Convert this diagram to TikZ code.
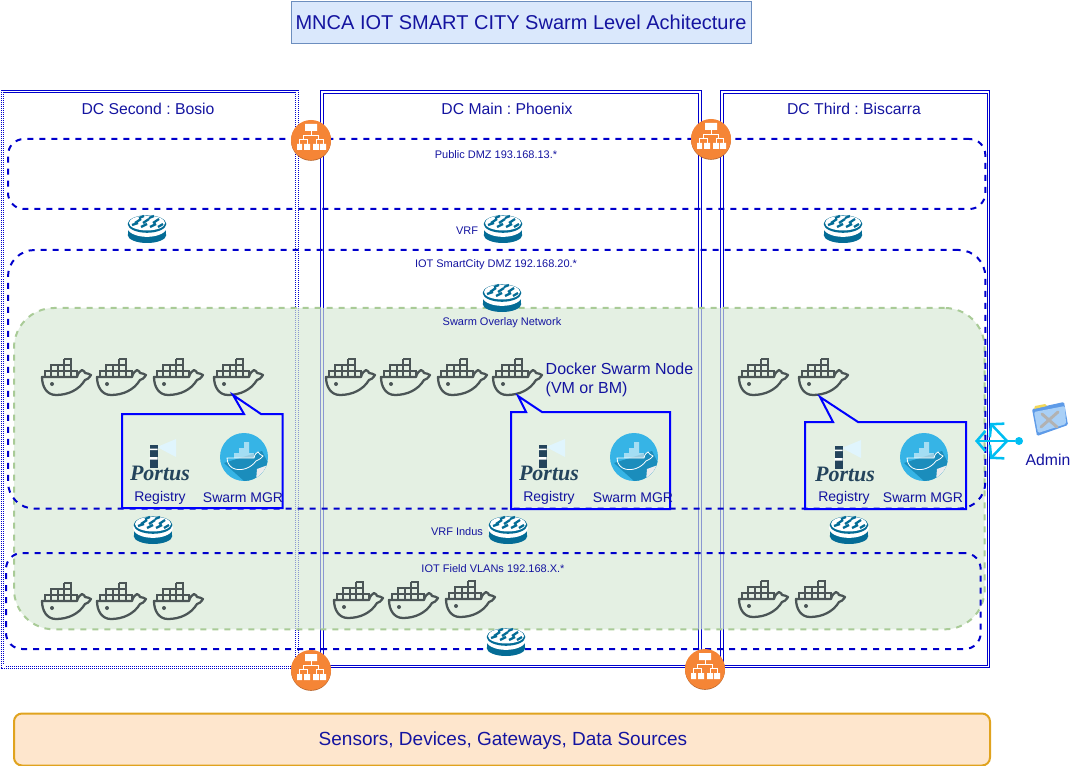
\documentclass[tikz,border=0pt]{standalone}
\usepackage{fontspec}
\setmainfont{Liberation Sans}
\newfontfamily\portusfont{Liberation Serif}
\usetikzlibrary{positioning,arrows.meta,calc}
\definecolor{ink}{HTML}{1414A0}
\definecolor{titlefill}{HTML}{DAE8FC}
\definecolor{titleline}{HTML}{6C8EBF}
\definecolor{frameblue}{HTML}{0000CC}
\definecolor{swarmfill}{HTML}{D5E8D4}
\definecolor{swarmline}{HTML}{A9CB97}
\definecolor{sensorfill}{HTML}{FEE6CD}
\definecolor{sensorline}{HTML}{E0A31F}
\definecolor{hull}{HTML}{4B5556}
\definecolor{routerteal}{HTML}{046C96}
\definecolor{switchorange}{HTML}{F58536}
\definecolor{switchshade}{HTML}{B9652B}
\definecolor{logoblue}{HTML}{36B4E6}
\definecolor{logoshade}{HTML}{1B8DBC}
\definecolor{portusink}{HTML}{24445C}
\definecolor{adminblue}{HTML}{00BEF2}
\definecolor{folderback}{HTML}{5E9BE8}
\definecolor{folderfront}{HTML}{A9D0F7}
\definecolor{foldertab}{HTML}{F2D85A}
\tikzset{
  zonebox/.style={anchor=north west,inner sep=0pt,outer sep=0pt},
  dcframe/.style={zonebox,draw=frameblue,line width=.75pt,double=white,double distance=1.2pt},
  hatchedge/.style={draw=white,line width=3.4pt,dash pattern=on .75pt off .75pt},
  netzone/.style={zonebox,draw=frameblue,line width=1.5pt,dash pattern=on 4.5pt off 4.5pt},
  swarmzone/.style={zonebox,fill=swarmfill,fill opacity=.65,draw=swarmline,line width=1.5pt,dash pattern=on 4.5pt off 4.5pt,rounded corners=30pt},
  titlebox/.style={draw=titleline,fill=titlefill,minimum width=345pt,minimum height=31.5pt,text=ink,font=\fontsize{15}{18}\selectfont},
  sensorbox/.style={zonebox,draw=sensorline,fill=sensorfill,line width=1.5pt,rounded corners=6pt},
  sensorlabel/.style={text=ink,font=\fontsize{14.25}{17}\selectfont},
  dclabel/.style={text=ink,font=\fontsize{11.8}{14}\selectfont\frenchspacing},
  iconlabel/.style={text=ink,font=\fontsize{10.5}{12}\selectfont},
  tinylabel/.style={text=ink,font=\fontsize{8.25}{10}\selectfont},
  infolabel/.style={text=ink,align=left,anchor=west,font=\fontsize{12}{14.25}\selectfont},
  calloutline/.style={draw=blue,line width=1.5pt,line join=miter},
  adminarrow/.style={draw=adminblue,line width=1.9pt,-{Straight Barb[length=6.5pt,width=15pt,line width=1.9pt]}},
  whale/.pic={
    \draw[hull,line width=1.7pt,line join=round]
      (0,19) -- (35,19) .. controls (36,15) and (38,13) .. (40,12) .. controls (42,13) and (43,14) .. (43,15)
      .. controls (45,15) and (47,16) .. (49,17) .. controls (47,20) and (45,22) .. (43,22)
      .. controls (37,32) and (26,37) .. (14,37) .. controls (5,37) and (0,29) .. (0,19) -- cycle;
    \draw[hull,line width=1.25pt]
      (3,19) -- (3,13) -- (35,13) -- (35,19) (9,19) -- (9,7) -- (29,7) -- (29,19)
      (16,7) -- (16,19) (22,1) -- (22,19) (22,1) -- (29,1) -- (29,7);
    \fill[hull] (10,26) circle[radius=1.5pt];
  },
  routerpic/.pic={
    \fill[routerteal] (0,6) ellipse[x radius=14.5pt,y radius=6pt];
    \fill[routerteal] (-19.3,-1) rectangle (19.3,6);
    \fill[white] (0,-2) ellipse[x radius=15pt,y radius=7.4pt];
    \fill[routerteal] (0,-5) ellipse[x radius=14.5pt,y radius=6.6pt];
    \fill[white] (0,-6) ellipse[x radius=13.5pt,y radius=5.6pt];
    \draw[routerteal,line width=1.7pt]
      (-12,-6) -- (-6,-10) (-4,-6) -- (2,-10) (6,-6) -- (12,-10)
      (-15,-4) -- (-9,-6) (-6,-2) -- (0,-5) (3,-2) -- (9,-5) (11,-2) -- (16,-5)
      (-8,-11) -- (-3,-13) (2,-11) -- (7,-13);
  },
  switchpic/.pic={
    \fill[switchshade] (0,.8) circle[radius=15pt];
    \fill[switchorange] (0,0) circle[radius=15pt];
    \fill[white] (-6,-16) rectangle (6,-9) (-14,4) rectangle (-9,10) (-7,4) rectangle (-1,10) (2,4) rectangle (8,10) (9,4) rectangle (15,10);
    \draw[white,line width=.6pt]
      (0,-9) -- (0,-5) (-7.5,-1) -- (-7.5,-5) -- (7.5,-5) -- (7.5,-1)
      (-11.5,4) -- (-11.5,-1) -- (-4,-1) -- (-4,4) (5,4) -- (5,-1) -- (12,-1) -- (12,4);
  },
  portuspic/.pic={
    \fill[white!88!cyan] (-3,-25) -- (16,-33) -- (16,-15) -- cycle;
    \fill[portusink] (-10.5,-27) rectangle (-2.5,-4);
    \fill[white] (-10.5,-23.5) rectangle (-2.5,-22) (-10.5,-15) rectangle (-2.5,-12.5);
    \node[text=portusink,font=\portusfont\fontsize{16.5}{18}\selectfont\bfseries\itshape] (portuslogo) at (0,1) {Portus};
  },
  swarmpic/.pic={
    \begin{scope}
      \clip (0,0) circle[radius=18pt];
      \fill[logoblue] (-24,-24) rectangle (24,24);
      \fill[logoshade] (-20,6) -- (18,-6) -- (24,6) -- (24,24) -- (0,24) -- cycle;
      \fill[white!85!gray] (12,24) -- (13,12) -- (24,8) -- (24,24) -- cycle;
    \end{scope}
    \fill[white,opacity=.55] (-10,-4) rectangle (10,1) (-5,-9) rectangle (5,-4) (0,-15) rectangle (5,-9);
    \draw[white,line width=.6pt] (-17,1) -- (10,1) .. controls (11,-3) and (12,-4) .. (14,-5)
      .. controls (15,-3) and (17,-2) .. (19,-1) .. controls (16,3) and (13,3) .. (12,4)
      .. controls (7,11) and (-2,14) .. (-9,12) .. controls (-13,11) and (-17,7) .. (-17,1) -- cycle;
  },
  folderpic/.pic={
    \fill[folderback,rounded corners=1pt] (-18,-11) -- (14,-18) -- (18,5) -- (-13,16) -- cycle;
    \fill[foldertab] (-16,-11) -- (-15,-14) -- (-5,-16) -- (-3,-14) -- cycle;
    \fill[folderfront,rounded corners=1pt] (-16,-8) -- (15,-14) -- (16,4) -- (-12,13) -- cycle;
    \draw[gray!60,line width=2.2pt,line cap=round] (-9,7) -- (8,-8) (-8,-6) -- (7,7);
  }
}
\begin{document}
\begin{tikzpicture}[x=.75pt,y=-.75pt]
  \useasboundingbox (0,0) rectangle (1073,766);
  \node[titlebox] (title) at (521,22) {MNCA IOT SMART CITY Swarm Level Achitecture};
  \node[dcframe,minimum width=221pt,minimum height=432pt] (dcsecond) at (2.5,91.5) {};
  \node[dcframe,minimum width=283.5pt,minimum height=431pt] (dcmain) at (322,92) {};
  \node[dcframe,minimum width=200pt,minimum height=431pt] (dcthird) at (722,92) {};
  \draw[hatchedge] (dcsecond.north west) -- (dcsecond.south west) -- (dcsecond.south east) -- (dcsecond.north east);
  \node[dclabel] (dcsecondtxt) at (148,108.5) {DC Second : Bosio};
  \node[dclabel] (dcmaintxt) at (507,108.5) {DC Main : Phoenix};
  \node[dclabel] (dcthirdtxt) at (854,108.5) {DC Third : Biscarra};
  \node[swarmzone,minimum width=728pt,minimum height=241pt] (swarmnet) at (14,308) {};
  \node[netzone,rounded corners=12pt,minimum width=733pt,minimum height=52.5pt] (publicdmz) at (8,139) {};
  \node[netzone,rounded corners=20pt,minimum width=733pt,minimum height=194pt] (iotdmz) at (8,250) {};
  \node[netzone,rounded corners=12pt,minimum width=731pt,minimum height=72pt] (fieldvlan) at (6,553) {};
  \node[tinylabel] (publictxt) at (496,154.5) {Public DMZ 193.168.13.*};
  \node[tinylabel] (vrftxt) at (467,230.5) {VRF};
  \node[tinylabel] (iottxt) at (496,265) {IOT SmartCity DMZ 192.168.20.*};
  \node[tinylabel] (swarmtxt) at (502,323) {Swarm Overlay Network};
  \node[tinylabel] (vrfindustxt) at (457,531.5) {VRF Indus};
  \node[tinylabel] (fieldtxt) at (493,569) {IOT Field VLANs 192.168.X.*};
  \pic (rtA) at (147,229) {routerpic};
  \pic (rtB) at (503,229) {routerpic};
  \pic (rtC) at (843,229) {routerpic};
  \pic (rtD) at (502,298) {routerpic};
  \pic (rtE) at (153,530) {routerpic};
  \pic (rtF) at (508,530) {routerpic};
  \pic (rtG) at (849,530) {routerpic};
  \pic (rtH) at (506,642) {routerpic};
  \pic (swA) at (311,140) {switchpic};
  \pic (swB) at (711,139) {switchpic};
  \pic (swC) at (311,670) {switchpic};
  \pic (swD) at (705,669) {switchpic};
  \pic (whA) at (42,358) {whale};
  \pic (whB) at (97,358) {whale};
  \pic (whC) at (154,358) {whale};
  \pic (whD) at (214,358) {whale};
  \pic (whE) at (326,358) {whale};
  \pic (whF) at (381,358) {whale};
  \pic (whG) at (438,358) {whale};
  \pic (whH) at (493,358) {whale};
  \pic (whI) at (739,358) {whale};
  \pic (whJ) at (799,358) {whale};
  \pic (whK) at (42,582) {whale};
  \pic (whL) at (97,582) {whale};
  \pic (whM) at (154,582) {whale};
  \pic (whN) at (334,581) {whale};
  \pic (whO) at (389,581) {whale};
  \pic (whP) at (446,580) {whale};
  \pic (whQ) at (739,580) {whale};
  \pic (whR) at (796,580) {whale};
  \node[infolabel] (nodetxt) at (541,380) {Docker Swarm Node\\(VM or BM)};
  \draw[calloutline] (122,414) -- (244,414) -- (233,395) -- (261,414) -- (282.5,414) -- (282.5,508) -- (122,508) -- cycle;
  \draw[calloutline] (511,412) -- (526,412) -- (518,396) -- (542,412) -- (670,412) -- (670,509) -- (511,509) -- cycle;
  \draw[calloutline] (805,422) -- (833,422) -- (820,397) -- (858,422) -- (966,422) -- (966,509) -- (805,509) -- cycle;
  \pic (portusA) at (160,472) {portuspic};
  \pic (portusB) at (549,472) {portuspic};
  \pic (portusC) at (845,473) {portuspic};
  \pic (logoA) at (244,457) {swarmpic};
  \pic (logoB) at (634,457) {swarmpic};
  \pic (logoC) at (924,457) {swarmpic};
  \node[iconlabel] (regA) at (160,498) {Registry};
  \node[iconlabel] (mgrA) at (243,498) {Swarm MGR};
  \node[iconlabel] (regB) at (549,498) {Registry};
  \node[iconlabel] (mgrB) at (633,498) {Swarm MGR};
  \node[iconlabel] (regC) at (844,498) {Registry};
  \node[iconlabel] (mgrC) at (923,498) {Swarm MGR};
  \pic (folder) at (1050,420) {folderpic};
  \node[dclabel] (admintxt) at (1048,460) {Admin};
  \node[circle,fill=adminblue,minimum size=6pt,inner sep=0pt] (admindot) at (1019,441) {};
  \coordinate (adminfork) at (1007,441);
  \coordinate (adminleft) at (975,441);
  \coordinate (adminup) at (990,423);
  \coordinate (admindown) at (990,459);
  \draw[draw=adminblue,line width=1.9pt] (admindot) -- (adminfork);
  \draw[adminarrow] (adminfork) -- (adminleft);
  \draw[adminarrow] (adminfork) -- (adminup);
  \draw[adminarrow] (adminfork) -- (admindown);
  \node[sensorbox,minimum width=732pt,minimum height=39pt] (sensors) at (14,713.5) {};
  \node[sensorlabel] (sensortxt) at (503,741) {Sensors, Devices, Gateways, Data Sources};
\end{tikzpicture}
\end{document}
